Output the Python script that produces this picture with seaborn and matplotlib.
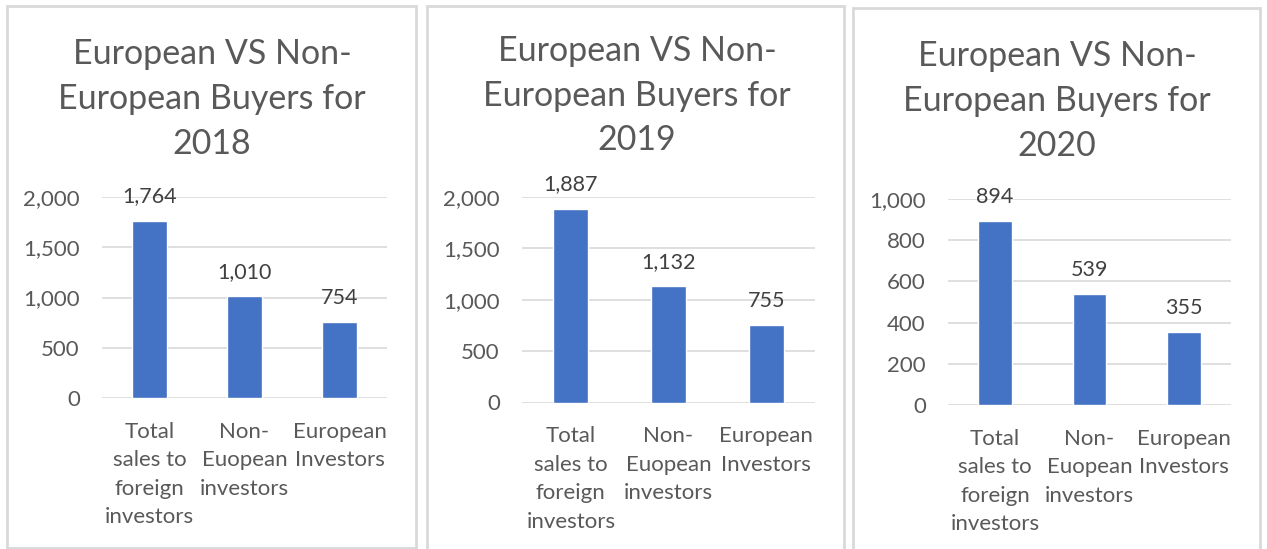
import seaborn as sns
import matplotlib
matplotlib.use("Agg")
from matplotlib import pyplot as plt
from matplotlib.patches import Rectangle

categories = ["Total\nsales to\nforeign\ninvestors", "Non-\nEuopean\ninvestors", "European\nInvestors"]
years = ["2018", "2019", "2020"]
sales_2018 = [1764, 1010, 754]
sales_2019 = [1887, 1132, 755]
sales_2020 = [894, 539, 355]
yticks_2018 = [0, 500, 1000, 1500, 2000]
yticks_2019 = [0, 500, 1000, 1500, 2000]
yticks_2020 = [0, 200, 400, 600, 800, 1000]

sns.set_theme(style="white")
plt.rcParams['font.family'] = ['Lato', 'DejaVu Sans']

W, H = 1267, 549
fig = plt.figure(figsize=(W / 100, H / 100), dpi=100)


def px_box(left, top, right, bottom):
    return [left / W, 1 - bottom / H, (right - left) / W, (bottom - top) / H]


# panel frames (left, top, right, bottom in pixels)
frames = [(7, 6, 416, 548), (427, 6, 844, 552), (853, 8, 1260, 552)]
for l, t, r, b in frames:
    fig.patches.append(Rectangle((l / W, 1 - b / H), (r - l) / W, (b - t) / H,
                                 transform=fig.transFigure, fill=False,
                                 edgecolor='#d9d9d9', linewidth=2))

axes_px = [(102, 197, 387, 398), (522, 197, 815, 402.5), (948, 199, 1231, 405)]
title_px = [(212, 99), (637, 95.5), (1057, 101)]
data = [sales_2018, sales_2019, sales_2020]
ticks = [yticks_2018, yticks_2019, yticks_2020]

for i in range(3):
    ax = fig.add_axes(px_box(*axes_px[i]))
    sns.barplot(x=categories, y=data[i], ax=ax, color='#4472C4', width=0.36, saturation=1)
    ax.set_ylim(0, ticks[i][-1])
    ax.set_xlim(-0.5, 2.5)
    ax.set_yticks(ticks[i])
    ax.set_yticklabels([f"{t:,}" for t in ticks[i]])
    for t in ticks[i]:
        ax.axhline(t, color='#d9d9d9', linewidth=1.2, zorder=0)
    for s in ax.spines.values():
        s.set_visible(False)
    ax.tick_params(axis='y', length=0, pad=16, labelsize=16, labelcolor='#595959')
    ax.tick_params(axis='x', length=0, pad=17, labelsize=16, labelcolor='#595959')
    for lab in ax.get_xticklabels():
        lab.set_linespacing(1.53)
    for j, v in enumerate(data[i]):
        ax.annotate(f"{v:,}", (j, v), xytext=(0, 17.5), textcoords='offset points',
                    ha='center', va='center', fontsize=15.5, color='#404040')
    tx, ty = title_px[i]
    fig.text(tx / W, 1 - ty / H, f"European VS Non-\nEuropean Buyers for\n{years[i]}",
             ha='center', va='center', fontsize=24.5, color='#595959', linespacing=1.49)

plt.savefig("out.png", dpi=100)
